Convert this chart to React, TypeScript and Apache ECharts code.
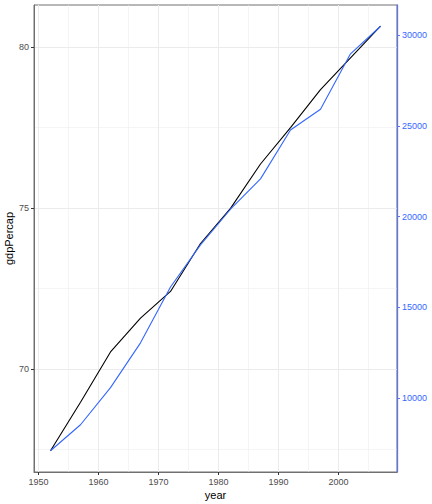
import React, { useEffect, useRef } from 'react';
import * as echarts from 'echarts';

const years = [1952, 1957, 1962, 1967, 1972, 1977, 1982, 1987, 1992, 1997, 2002, 2007];
const lifeExp = [67.46, 68.97, 70.53, 71.58, 72.41, 73.9, 74.99, 76.37, 77.5, 78.68, 79.67, 80.65];
const gdpPercap = [7094, 8530, 10575, 13044, 16122, 18442, 20409, 22083, 24779, 25923, 28978, 30497];
const xMajor = [1950, 1960, 1970, 1980, 1990, 2000];
const xMinor = [1955, 1965, 1975, 1985, 1995, 2005];
const yLeftMajor = [70, 75, 80];
const yLeftMinor = [67.5, 72.5, 77.5];
const yRightTicks = [10000, 15000, 20000, 25000, 30000];

function expand(vals: number[]): [number, number] {
  const mn = Math.min(...vals);
  const mx = Math.max(...vals);
  const r = mx - mn;
  return [mn - 0.05 * r, mx + 0.05 * r];
}

const FONT = '"Liberation Sans", Arial, Helvetica, sans-serif';
const BLUE = '#3366FF';
const AXBLUE = '#5f74e6';
const BORDER = '#707070';
const GRID = '#ebebeb';

export default function App() {
  const ref = useRef<HTMLDivElement>(null);
  useEffect(() => {
    if (!ref.current) return;
    const chart = echarts.init(ref.current, null, { renderer: 'svg' });
    const [xMin, xMax] = expand(years);
    const [lMin, lMax] = expand(lifeExp);
    const [rMin, rMax] = expand(gdpPercap);
    const lab = { fontFamily: FONT, fontSize: 9, color: '#4d4d4d' };
    chart.setOption({
      animation: false,
      backgroundColor: '#ffffff',
      grid: {
        left: 34, top: 5, right: 35, bottom: 32, show: true,
        containLabel: false, outerBoundsMode: 'none',
        borderColor: BORDER, borderWidth: 1, backgroundColor: 'transparent',
      },
      xAxis: [
        {
          type: 'value', min: xMin, max: xMax, position: 'bottom',
          name: 'year', nameLocation: 'middle', nameGap: 17, nameMoveOverlap: false,
          nameTextStyle: { fontFamily: FONT, fontSize: 11, color: '#000' },
          axisLine: { show: true, lineStyle: { color: BORDER, width: 1 } },
          axisTick: { show: true, length: 3, customValues: xMajor, lineStyle: { color: '#333333' } },
          axisLabel: { ...lab, margin: 5, customValues: xMajor, formatter: (v: number) => String(v) },
          splitLine: { show: true, lineStyle: { color: GRID, width: 1 } },
        },
        {
          type: 'value', min: xMin, max: xMax, position: 'bottom',
          axisLine: { show: false },
          axisTick: { show: false, customValues: xMinor },
          axisLabel: { show: false },
          splitLine: { show: true, lineStyle: { color: GRID, width: 0.5 } },
        },
      ],
      yAxis: [
        {
          type: 'value', min: lMin, max: lMax, position: 'left',
          name: 'gdpPercap', nameLocation: 'middle', nameGap: 20, nameRotate: 90, nameMoveOverlap: false,
          nameTextStyle: { fontFamily: FONT, fontSize: 11, color: '#000' },
          axisLine: { show: true, lineStyle: { color: BORDER, width: 1 } },
          axisTick: { show: true, length: 3, customValues: yLeftMajor, lineStyle: { color: '#333333' } },
          axisLabel: { ...lab, margin: 5, customValues: yLeftMajor, formatter: (v: number) => String(v) },
          splitLine: { show: true, lineStyle: { color: GRID, width: 1 } },
        },
        {
          type: 'value', min: rMin, max: rMax, position: 'right',
          axisLine: { show: true, lineStyle: { color: AXBLUE, width: 1.3 } },
          axisTick: { show: true, length: 3, customValues: yRightTicks, lineStyle: { color: AXBLUE } },
          axisLabel: { ...lab, color: BLUE, margin: 5, customValues: yRightTicks, formatter: (v: number) => String(v) },
          splitLine: { show: false },
        },
        {
          type: 'value', min: lMin, max: lMax, position: 'left',
          axisLine: { show: false },
          axisTick: { show: false, customValues: yLeftMinor },
          axisLabel: { show: false },
          splitLine: { show: true, lineStyle: { color: GRID, width: 0.5 } },
        },
      ],
      series: [
        {
          type: 'line', xAxisIndex: 0, yAxisIndex: 0, symbol: 'none',
          lineStyle: { color: '#000000', width: 1.1 },
          data: years.map((y, i) => [y, lifeExp[i]]),
          z: 3,
        },
        {
          type: 'line', xAxisIndex: 0, yAxisIndex: 1, symbol: 'none',
          lineStyle: { color: BLUE, width: 1.1 },
          data: years.map((y, i) => [y, gdpPercap[i]]),
          z: 4,
        },
      ],
    });
    return () => chart.dispose();
  }, []);
  return <div ref={ref} style={{ position: 'absolute', left: 0, top: 0, width: 432, height: 504 }} />;
}
